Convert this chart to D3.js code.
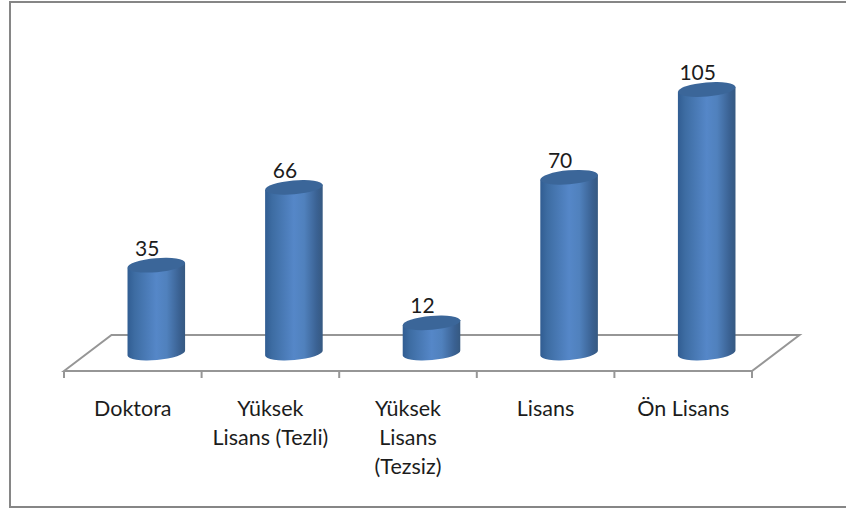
<!DOCTYPE html>
<html><head><meta charset="utf-8">
<script src="https://cdn.jsdelivr.net/npm/d3@7"></script>
<style>html,body{margin:0;padding:0;background:#fff}svg{display:block}text{font-family:Lato,"Open Sans",sans-serif;fill:#1c1c1c}</style>
</head><body><div id="c"></div>
<script>
const categories = ["Doktora","Yüksek Lisans (Tezli)","Yüksek Lisans (Tezsiz)","Lisans","Ön Lisans"];
const values = [35,66,12,70,105];
const categoryLines = [["Doktora"],["Yüksek","Lisans (Tezli)"],["Yüksek","Lisans","(Tezsiz)"],["Lisans"],["Ön Lisans"]];

const W=846,H=509;
const svg=d3.select("#c").append("svg").attr("width",W).attr("height",H);
const defs=svg.append("defs");
const g=defs.append("linearGradient").attr("id","cyl");
[[0,"#315d92"],[0.12,"#3d6ca2"],[0.5,"#5587c8"],[0.68,"#5081bd"],[0.9,"#3a6192"],[1,"#365981"]]
 .forEach(([o,c])=>g.append("stop").attr("offset",o).attr("stop-color",c));

// frame
svg.append("path").attr("d","M10,508 V2 H846 M10,507 H846").attr("fill","none").attr("stroke","#868686").attr("stroke-width",2);

const x=d3.scaleBand().domain(categories).range([64,752]);
const y=d3.scaleLinear().domain([0,105]).range([353,89.5]);
const depthX=23.5, dx=47.5, floorY=371, backY=335;

// floor
const floor=svg.append("g").attr("fill","none").attr("stroke","#969696").attr("stroke-width",2);
floor.append("path").attr("d",`M${x.range()[0]},${floorY} L${x.range()[0]+dx},${backY} H${x.range()[1]+dx} L${x.range()[1]},${floorY} Z`);
const ticks=categories.map(c=>x(c)).concat(x.range()[1]);
floor.selectAll("line").data(ticks).join("line").attr("x1",d=>d).attr("x2",d=>d).attr("y1",floorY).attr("y2",floorY+7);

// bars
const rx=x.bandwidth()*0.21, ry=7, rot=-5, t=rot*Math.PI/180;
const ex=rx*Math.cos(t), ey=rx*Math.sin(t);
const bars=svg.append("g").selectAll("g").data(categories.map((c,i)=>({c,v:values[i],i}))).join("g");
bars.append("path").attr("fill","url(#cyl)").attr("d",d=>{
  const cx=x(d.c)+x.bandwidth()/2+depthX, t0=y(d.v), b0=y(0);
  return `M${cx-ex},${t0-ey} L${cx+ex},${t0+ey} L${cx+ex},${b0+ey} A${rx},${ry} ${rot} 0 1 ${cx-ex},${b0-ey} Z`;
});
bars.append("ellipse").attr("fill","#3b6699")
 .attr("rx",rx).attr("ry",ry)
 .attr("transform",d=>`translate(${x(d.c)+x.bandwidth()/2+depthX},${y(d.v)}) rotate(${rot})`);

// value labels
bars.append("text").attr("text-anchor","middle").attr("font-size",21).attr("font-weight",400)
 .attr("x",d=>x(d.c)+x.bandwidth()/2+depthX-9)
 .attr("y",d=>y(d.v)-9.5)
 .text(d=>d.v);

// category labels
const labs=svg.append("g").selectAll("text").data(categories.map((c,i)=>({c,lines:categoryLines[i]}))).join("text")
 .attr("text-anchor","middle").attr("font-size",21.5);
labs.selectAll("tspan").data(d=>d.lines.map((l,i)=>({l,i,c:d.c}))).join("tspan")
 .attr("x",d=>x(d.c)+x.bandwidth()/2).attr("y",d=>415.5+d.i*29).text(d=>d.l);
</script></body></html>
